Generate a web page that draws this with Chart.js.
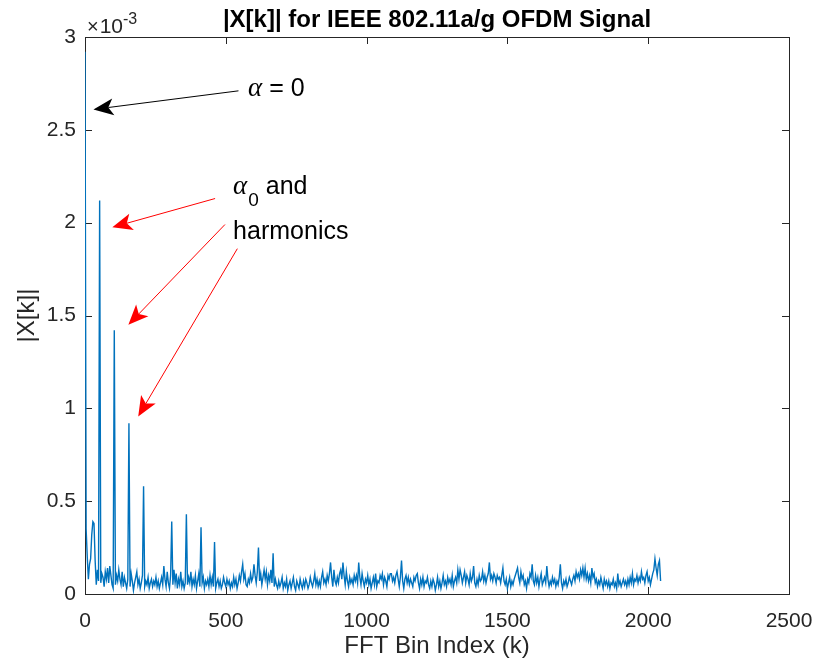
<!DOCTYPE html>
<html>
<head>
<meta charset="utf-8">
<title>|X[k]| for IEEE 802.11a/g OFDM Signal</title>
<script src="https://cdn.jsdelivr.net/npm/chart.js@4.4.1/dist/chart.umd.min.js"></script>
<style>
  html, body { margin: 0; padding: 0; background: #fff; }
</style>
</head>
<body>
<canvas id="spec" width="815" height="663"></canvas>
<script>
// FFT magnitude |X[k]| of the 802.11a/g burst, one value every 4 bins (k = 0 ... 2044),
// values stored in units of 1e-3 (the axis shows the x10^-3 multiplier)
const binStep = 4;
const magnitude = [
  2.92, 0.35, 0.20, 0.08, 0.16, 0.19, 0.32, 0.39, 0.38, 0.18, 0.05, 0.13, 0.07, 2.12, 0.06, 0.11,
  0.09, 0.04, 0.12, 0.08, 0.14, 0.06, 0.15, 0.10, 0.05, 0.03, 1.42, 0.05, 0.10, 0.07, 0.13, 0.08,
  0.05, 0.12, 0.04, 0.09, 0.06, 0.03, 0.08, 0.92, 0.04, 0.11, 0.07, 0.02, 0.06, 0.09, 0.12, 0.05,
  0.08, 0.03, 0.06, 0.10, 0.58, 0.04, 0.07, 0.05, 0.09, 0.03, 0.06, 0.08, 0.04, 0.07, 0.05, 0.09,
  0.04, 0.07, 0.03, 0.06, 0.09, 0.05, 0.15, 0.08, 0.04, 0.12, 0.06, 0.03, 0.10, 0.39, 0.05, 0.13,
  0.06, 0.11, 0.03, 0.08, 0.05, 0.12, 0.04, 0.07, 0.03, 0.06, 0.43, 0.05, 0.09, 0.06, 0.12, 0.04,
  0.08, 0.05, 0.10, 0.03, 0.07, 0.11, 0.04, 0.36, 0.06, 0.09, 0.03, 0.07, 0.05, 0.08, 0.04, 0.10,
  0.05, 0.09, 0.04, 0.28, 0.03, 0.06, 0.08, 0.04, 0.07, 0.03, 0.05, 0.09, 0.06, 0.04, 0.08, 0.05,
  0.07, 0.03, 0.06, 0.04, 0.09, 0.05, 0.08, 0.03, 0.06, 0.10, 0.07, 0.12, 0.16, 0.08, 0.11, 0.05,
  0.04, 0.08, 0.06, 0.11, 0.07, 0.09, 0.16, 0.10, 0.06, 0.12, 0.25, 0.07, 0.11, 0.05, 0.09, 0.13,
  0.08, 0.12, 0.05, 0.10, 0.07, 0.13, 0.06, 0.22, 0.04, 0.08, 0.05, 0.03, 0.07, 0.04, 0.06, 0.09,
  0.03, 0.06, 0.04, 0.08, 0.02, 0.05, 0.07, 0.03, 0.06, 0.09, 0.04, 0.02, 0.07, 0.05, 0.03, 0.08,
  0.05, 0.03, 0.07, 0.04, 0.08, 0.06, 0.03, 0.05, 0.09, 0.06, 0.04, 0.07, 0.11, 0.05, 0.08, 0.04,
  0.07, 0.04, 0.09, 0.12, 0.06, 0.08, 0.05, 0.10, 0.07, 0.11, 0.17, 0.09, 0.04, 0.13, 0.07, 0.05,
  0.09, 0.06, 0.11, 0.13, 0.08, 0.17, 0.10, 0.05, 0.12, 0.07, 0.04, 0.09, 0.06, 0.08, 0.05, 0.10,
  0.07, 0.10, 0.06, 0.17, 0.09, 0.05, 0.11, 0.07, 0.04, 0.08, 0.06, 0.10, 0.05, 0.08, 0.03, 0.06,
  0.09, 0.05, 0.11, 0.04, 0.07, 0.06, 0.10, 0.08, 0.11, 0.05, 0.09, 0.07, 0.04, 0.10, 0.08, 0.11,
  0.11, 0.07, 0.09, 0.06, 0.10, 0.12, 0.08, 0.04, 0.09, 0.18, 0.07, 0.03, 0.08, 0.10, 0.06, 0.09,
  0.05, 0.08, 0.06, 0.04, 0.09, 0.07, 0.10, 0.11, 0.06, 0.03, 0.08, 0.05, 0.09, 0.04, 0.07, 0.06,
  0.09, 0.05, 0.03, 0.07, 0.04, 0.08, 0.06, 0.02, 0.05, 0.09, 0.04, 0.07, 0.03, 0.06, 0.10, 0.05,
  0.07, 0.04, 0.09, 0.06, 0.08, 0.05, 0.10, 0.04, 0.07, 0.09, 0.06, 0.13, 0.08, 0.13, 0.10, 0.06,
  0.09, 0.12, 0.06, 0.10, 0.08, 0.05, 0.11, 0.07, 0.09, 0.15, 0.06, 0.04, 0.08, 0.05, 0.10, 0.07,
  0.08, 0.12, 0.07, 0.10, 0.06, 0.09, 0.11, 0.17, 0.08, 0.10, 0.07, 0.11, 0.09, 0.06, 0.10, 0.08,
  0.09, 0.06, 0.10, 0.14, 0.07, 0.05, 0.08, 0.03, 0.06, 0.09, 0.04, 0.07, 0.05, 0.08, 0.10, 0.12,
  0.14, 0.09, 0.06, 0.12, 0.08, 0.10, 0.05, 0.07, 0.03, 0.08, 0.06, 0.11, 0.09, 0.16, 0.07, 0.05,
  0.10, 0.06, 0.09, 0.04, 0.08, 0.11, 0.05, 0.07, 0.09, 0.06, 0.15, 0.08, 0.04, 0.07, 0.05, 0.09,
  0.06, 0.08, 0.04, 0.07, 0.05, 0.09, 0.16, 0.06, 0.03, 0.07, 0.05, 0.08, 0.04, 0.06, 0.09, 0.07,
  0.05, 0.08, 0.10, 0.07, 0.12, 0.09, 0.11, 0.08, 0.13, 0.10, 0.14, 0.09, 0.14, 0.08, 0.11, 0.07,
  0.10, 0.06, 0.14, 0.09, 0.11, 0.06, 0.08, 0.04, 0.07, 0.05, 0.09, 0.06, 0.03, 0.08, 0.05, 0.07,
  0.04, 0.07, 0.03, 0.06, 0.05, 0.08, 0.04, 0.06, 0.03, 0.11, 0.05, 0.07, 0.04, 0.06, 0.08, 0.05,
  0.07, 0.04, 0.08, 0.05, 0.09, 0.06, 0.11, 0.05, 0.08, 0.07, 0.10, 0.06, 0.09, 0.07, 0.12, 0.08,
  0.09, 0.06, 0.10, 0.12, 0.07, 0.09, 0.05, 0.08, 0.11, 0.13, 0.19, 0.14, 0.10, 0.16, 0.18, 0.07
];

const xTicks = [0, 500, 1000, 1500, 2000, 2500];
const yTicks = [0, 0.5, 1, 1.5, 2, 2.5, 3];

// annotation arrows, ends given in data units [k, |X| x1e3]
const zeroArrow = { from: [545, 2.71], to: [30, 2.61] };
const harmonicArrows = [
  { from: [462, 2.13], to: [97, 1.975] },
  { from: [497, 1.99], to: [154, 1.45] },
  { from: [541, 1.86], to: [189, 0.956] }
];
const zeroLabelAt = [579, 2.68];
const harmLabelAt = [526, 2.156];
const harmLabel2At = [526, 1.912];

const SANS = "'Liberation Sans', Arial, Helvetica, sans-serif";
const SERIF = "'Liberation Serif', 'DejaVu Serif', serif";
const AXIS_COLOR = '#262626';

const points = magnitude.map((v, i) => ({ x: i * binStep, y: v }));

function drawArrow(ctx, x0, y0, x1, y1, color) {
  const ang = Math.atan2(y1 - y0, x1 - x0);
  const len = 20, half = 8.5, notch = 15;
  const ux = Math.cos(ang), uy = Math.sin(ang);
  ctx.save();
  ctx.strokeStyle = color;
  ctx.fillStyle = color;
  ctx.lineWidth = 1;
  ctx.beginPath();
  ctx.moveTo(x0, y0);
  ctx.lineTo(x1 - ux * notch, y1 - uy * notch);
  ctx.stroke();
  const bx = x1 - ux * len, by = y1 - uy * len;
  ctx.beginPath();
  ctx.moveTo(x1, y1);
  ctx.lineTo(bx - uy * half, by + ux * half);
  ctx.lineTo(x1 - ux * notch, y1 - uy * notch);
  ctx.lineTo(bx + uy * half, by - ux * half);
  ctx.closePath();
  ctx.fill();
  ctx.restore();
}

const matlabFrame = {
  id: 'matlabFrame',
  beforeDatasetsDraw(chart) {
    const { ctx, chartArea: a, scales: { x, y } } = chart;
    ctx.save();
    ctx.strokeStyle = AXIS_COLOR;
    ctx.lineWidth = 1;
    ctx.strokeRect(Math.round(a.left) + 0.5, Math.round(a.top) + 0.5,
      Math.round(a.right - a.left), Math.round(a.bottom - a.top));
    const tl = 7;
    ctx.beginPath();
    xTicks.forEach(v => {
      const px = Math.round(x.getPixelForValue(v)) + 0.5;
      ctx.moveTo(px, a.bottom); ctx.lineTo(px, a.bottom - tl);
      ctx.moveTo(px, a.top); ctx.lineTo(px, a.top + tl);
    });
    yTicks.forEach(v => {
      const py = Math.round(y.getPixelForValue(v)) + 0.5;
      ctx.moveTo(a.left, py); ctx.lineTo(a.left + tl, py);
      ctx.moveTo(a.right, py); ctx.lineTo(a.right - tl, py);
    });
    ctx.stroke();
    ctx.restore();
  },
  afterDraw(chart) {
    const { ctx, chartArea: a, scales: { x, y } } = chart;
    const px = d => [x.getPixelForValue(d[0]), y.getPixelForValue(d[1])];
    ctx.save();

    // title
    ctx.fillStyle = '#000';
    ctx.font = `bold 24px ${SANS}`;
    ctx.textAlign = 'center';
    ctx.textBaseline = 'alphabetic';
    ctx.fillText('|X[k]| for IEEE 802.11a/g OFDM Signal', (a.left + a.right) / 2, 27);

    // exponent label above the y axis
    ctx.textAlign = 'left';
    ctx.fillStyle = AXIS_COLOR;
    let cx = a.left + 2;
    ctx.font = `20px ${SANS}`;
    ctx.fillText('\u00d7', cx, 33);
    cx += ctx.measureText('\u00d7').width + 1;
    ctx.font = `21px ${SANS}`;
    ctx.fillText('10', cx, 33);
    cx += ctx.measureText('10').width;
    ctx.font = `16px ${SANS}`;
    ctx.fillText('-3', cx, 24);

    // arrows
    drawArrow(ctx, ...px(zeroArrow.from), ...px(zeroArrow.to), '#000');
    harmonicArrows.forEach(ar => drawArrow(ctx, ...px(ar.from), ...px(ar.to), '#ff0000'));

    // annotation text
    ctx.fillStyle = '#000';
    let [tx, ty] = px(zeroLabelAt);
    ctx.font = `italic 27px ${SERIF}`;
    ctx.fillText('\u03b1', tx, ty);
    tx += ctx.measureText('\u03b1').width;
    ctx.font = `25px ${SANS}`;
    ctx.fillText(' = 0', tx, ty);

    [tx, ty] = px(harmLabelAt);
    ctx.font = `italic 27px ${SERIF}`;
    ctx.fillText('\u03b1', tx, ty);
    tx += ctx.measureText('\u03b1').width + 1;
    ctx.font = `19px ${SANS}`;
    ctx.fillText('0', tx, ty + 12);
    tx += ctx.measureText('0').width;
    ctx.font = `25px ${SANS}`;
    ctx.fillText(' and', tx, ty);

    [tx, ty] = px(harmLabel2At);
    ctx.fillText('harmonics', tx, ty);
    ctx.restore();
  }
};

new Chart(document.getElementById('spec'), {
  type: 'line',
  data: {
    datasets: [{
      data: points,
      borderColor: '#0072bd',
      borderWidth: 1.4,
      pointRadius: 0,
      tension: 0,
      fill: false
    }]
  },
  options: {
    responsive: false,
    animation: false,
    events: [],
    layout: { padding: { top: 37, right: 26, left: 0, bottom: 0 } },
    plugins: { legend: { display: false }, tooltip: { enabled: false }, title: { display: false } },
    scales: {
      x: {
        type: 'linear', min: 0, max: 2500,
        afterBuildTicks: s => { s.ticks = xTicks.map(v => ({ value: v })); },
        afterFit: s => { s.height = 69; s.paddingLeft = 0; s.paddingRight = 0; },
        grid: { display: false, drawTicks: false },
        border: { display: false },
        ticks: { color: AXIS_COLOR, font: { family: SANS, size: 21 }, padding: 15, maxRotation: 0, autoSkip: false, callback: v => String(v) },
        title: { display: true, text: 'FFT Bin Index (k)', color: AXIS_COLOR, font: { family: SANS, size: 24 }, padding: { top: 0, bottom: 2 } }
      },
      y: {
        type: 'linear', min: 0, max: 3,
        afterBuildTicks: s => { s.ticks = yTicks.map(v => ({ value: v })); },
        afterFit: s => { s.width = 85; s.paddingTop = 0; s.paddingBottom = 0; },
        grid: { display: false, drawTicks: false },
        border: { display: false },
        ticks: { color: AXIS_COLOR, font: { family: SANS, size: 21 }, padding: 9, callback: v => String(v) },
        title: { display: true, text: '|X[k]|', color: AXIS_COLOR, font: { family: SANS, size: 24 }, padding: { top: 13, bottom: 0 } }
      }
    }
  },
  plugins: [matlabFrame]
});
</script>
</body>
</html>
